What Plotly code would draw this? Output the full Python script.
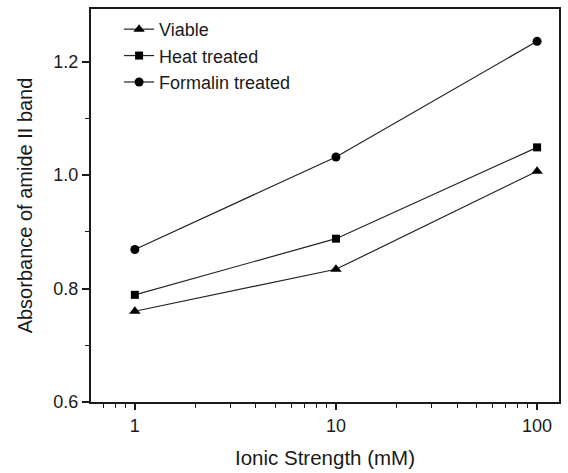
import plotly.graph_objects as go

ionic_strength = [1, 10, 100]
viable = [0.760, 0.834, 1.007]
heat_treated = [0.789, 0.888, 1.049]
formalin_treated = [0.869, 1.032, 1.236]

x_tick_vals = [1, 10, 100]
x_tick_text = ["1", "10", "100"]
y_tick_vals = [0.6, 0.8, 1.0, 1.2]
y_tick_text = ["0.6", "0.8", "1.0", "1.2"]

font_family = "Liberation Sans, Arial, sans-serif"
ink = "#1a1a1a"

fig = go.Figure()
series = [
    ("Viable", viable, "triangle-up", 10),
    ("Heat treated", heat_treated, "square", 8),
    ("Formalin treated", formalin_treated, "circle", 9),
]
for name, vals, sym, size in series:
    fig.add_trace(go.Scatter(
        x=ionic_strength, y=vals, name=name, mode="lines+markers",
        line=dict(color="#222222", width=1.2),
        marker=dict(symbol=sym, size=size, color="#000000"),
    ))

fig.update_layout(
    width=568, height=473,
    margin=dict(l=91, r=7, t=9, b=70),
    paper_bgcolor="white", plot_bgcolor="white",
    font=dict(family=font_family, size=18, color=ink),
    showlegend=True,
    legend=dict(x=0.06, y=0.995, xanchor="left", yanchor="top",
                bgcolor="rgba(0,0,0,0)", font=dict(size=18, color=ink),
                itemsizing="trace", tracegroupgap=0),
)
fig.update_xaxes(
    type="log", range=[-0.218, 2.109],
    tickvals=x_tick_vals, ticktext=x_tick_text,
    ticks="outside", ticklen=6, tickwidth=1.5, tickcolor=ink,
    showline=True, linewidth=2, linecolor=ink, mirror=True,
    showgrid=False, zeroline=False,
    minor=dict(ticks="outside", ticklen=4, tickwidth=1.2, tickcolor=ink, dtick="D1", showgrid=False),
    title=dict(text="Ionic Strength (mM)", font=dict(size=20.5), standoff=16),
    tickfont=dict(size=18),
)
fig.update_yaxes(
    range=[0.6, 1.293],
    tickvals=y_tick_vals, ticktext=y_tick_text,
    ticks="outside", ticklen=7, tickwidth=1.5, tickcolor=ink,
    showline=True, linewidth=2, linecolor=ink, mirror=True,
    showgrid=False, zeroline=False,
    minor=dict(ticks="outside", ticklen=4, tickwidth=1.2, tickcolor=ink, dtick=0.1, showgrid=False),
    title=dict(text="Absorbance of amide II band", font=dict(size=20), standoff=15),
    tickfont=dict(size=18),
)

fig.write_html("out.html")
